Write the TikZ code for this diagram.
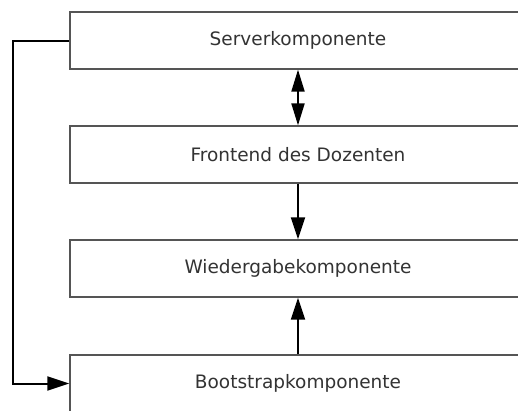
\documentclass[tikz,border=0pt]{standalone}
\usepackage{fontspec}
\setmainfont{DejaVu Sans}
\usetikzlibrary{arrows.meta}
\definecolor{boxline}{HTML}{555555}
\definecolor{labeltext}{HTML}{333333}
\tikzset{
  comp/.style={draw=boxline, line width=1.3pt, fill=white, rectangle,
    minimum width=456pt, minimum height=57pt, inner sep=0pt,
    text=labeltext, font=\fontsize{18.5}{22}\selectfont},
  link/.style={line width=2pt, -{Triangle[length=22pt,width=14pt]}},
  link2/.style={line width=2pt, {Triangle[length=22pt,width=13pt]}-{Triangle[length=22pt,width=13pt]}}
}
\begin{document}
\begin{tikzpicture}[x=1pt, y=-1pt]
  \useasboundingbox (0,0) rectangle (518,410);
  \fill[white] (0,0) rectangle (518,410);
  \node[comp] (srv) at (298,40.5) {Serverkomponente};
  \node[comp] (fe)  at (298,154.5) {Frontend des Dozenten};
  \node[comp] (wg)  at (298,268.5) {Wiedergabekomponente};
  \node[comp] (bs)  at (298,383.5) {Bootstrapkomponente};
  \coordinate (lc) at (13,40.5);
  \draw[link2] (srv.south) -- (fe.north);
  \draw[link] (fe.south) -- (wg.north);
  \draw[link] (bs.north) -- (wg.south);
  \draw[link] (srv.west) -- (lc) |- (bs.west);
\end{tikzpicture}
\end{document}
